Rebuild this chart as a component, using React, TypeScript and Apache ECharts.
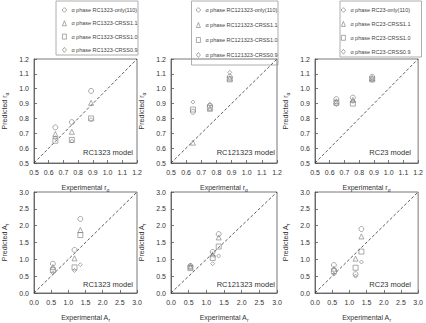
import React, { useEffect, useRef } from 'react';
import * as echarts from 'echarts';

// ---------- data ----------
const MODELS = ['RC1323', 'RC121323', 'RC23'];
const SERIES_SUFFIX = ['only(110)', 'CRSS1.1', 'CRSS1.0', 'CRSS0.9'];
const SYMBOLS = ['circle', 'triangle', 'rect', 'diamond'];

// experimental values (x)
const EXP_R = [0.645, 0.757, 0.888];
const EXP_A = [0.55, 1.18, 1.35];

// predicted r_alpha, one array per series: only(110), CRSS1.1, CRSS1.0, CRSS0.9
const PRED_R_RC1323 = [
  [0.74, 0.775, 0.985],
  [0.695, 0.71, 0.905],
  [0.65, 0.655, 0.8],
  [0.67, 0.648, 0.792],
];
const PRED_R_RC121323 = [
  [0.845, 0.885, 1.08],
  [0.637, 0.865, 1.07],
  [0.86, 0.872, 1.063],
  [0.91, 0.895, 1.11],
];
const PRED_R_RC23 = [
  [0.93, 0.94, 1.08],
  [0.915, 0.925, 1.072],
  [0.905, 0.9, 1.063],
  [0.893, 0.915, 1.055],
];

// predicted A_r
const PRED_A_RC1323 = [
  [0.87, 1.28, 2.2],
  [0.77, 1.03, 1.87],
  [0.68, 0.76, 1.72],
  [0.6, 0.67, 0.84],
];
const PRED_A_RC121323 = [
  [0.8, 1.22, 1.75],
  [0.78, 1.15, 1.65],
  [0.74, 1.04, 1.38],
  [0.83, 0.87, 1.1],
];
const PRED_A_RC23 = [
  [0.83, 0.56, 1.9],
  [0.72, 1.02, 1.68],
  [0.65, 0.75, 1.23],
  [0.56, 0.5, 0.92],
];

// axis ranges [min, max, interval]
const R_AXIS = [0.5, 1.2, 0.1];
const A_AXIS = [0, 3.0, 0.5];

// ---------- layout ----------
const FONT = 'Liberation Sans, Arial, sans-serif';
const LEFTS = [31, 171, 315];
const TOPS = [59, 192];
const WIDTH = 106;
const HEIGHTS = [104, 105];
const LABEL_RIGHT = [133, 275, 411];
const LABEL_Y = [152, 284];
const LEGEND_BOX = [
  { x: 56, y: 1, w: 82, h: 54, left: 62, top: 7, gap: 7.3 },
  { x: 191.5, y: 1, w: 86.5, h: 64, left: 196, top: 7, gap: 9 },
  { x: 340, y: 1, w: 81.5, h: 56, left: 341, top: 7, gap: 7.9 },
];

const INK = '#333';
const MARK = '#7a7a7a';

function seriesName(model: string, k: number) {
  return `α phase ${model}-${SERIES_SUFFIX[k]}`;
}

function buildOption() {
  const grids: any[] = [];
  const xAxes: any[] = [];
  const yAxes: any[] = [];
  const series: any[] = [];
  const legends: any[] = [];
  const graphics: any[] = [];

  const rows = [
    { exp: EXP_R, preds: [PRED_R_RC1323, PRED_R_RC121323, PRED_R_RC23], axis: R_AXIS, sym: 'r', sub: 'α', xsub: 'α' },
    { exp: EXP_A, preds: [PRED_A_RC1323, PRED_A_RC121323, PRED_A_RC23], axis: A_AXIS, sym: 'A', sub: 'r', xsub: 'r' },
  ];

  const rich = {
    n: { fontSize: 7, fontFamily: FONT, color: INK, lineHeight: 9 },
    s: { fontSize: 5, fontFamily: FONT, color: INK, lineHeight: 5, verticalAlign: 'bottom' },
  };

  rows.forEach((row, r) => {
    MODELS.forEach((model, c) => {
      const g = r * 3 + c;
      const [min, max, interval] = row.axis;
      grids.push({
        left: LEFTS[c],
        top: TOPS[r],
        width: WIDTH,
        height: HEIGHTS[r],
        show: true,
        borderColor: '#555',
        borderWidth: 0.8,
        backgroundColor: 'transparent',
      });
      const common = {
        type: 'value',
        gridIndex: g,
        min,
        max,
        interval,
        splitLine: { show: false },
        axisLine: { show: true, lineStyle: { color: '#555', width: 0.8 } },
        axisTick: { show: true, inside: true, length: 3, lineStyle: { color: '#555', width: 0.8 } },
        axisLabel: {
          fontSize: 7,
          fontFamily: FONT,
          color: INK,
          formatter: (v: number) => v.toFixed(1),
        },
        nameLocation: 'middle',
        nameTextStyle: { rich },
      };
      xAxes.push({
        ...common,
        axisLabel: { ...common.axisLabel, margin: 6 },
        name: `{n|Experimental ${row.sym}}{s|${row.xsub}}`,
        nameGap: 20,
      });
      yAxes.push({
        ...common,
        axisLabel: { ...common.axisLabel, margin: 5 },
        name: `{n|Predicted ${row.sym}}{s|${row.sub}}`,
        nameGap: 25,
      });

      // 1:1 reference line
      series.push({
        type: 'line',
        xAxisIndex: g,
        yAxisIndex: g,
        data: [
          [min, min],
          [max, max],
        ],
        symbol: 'none',
        silent: true,
        lineStyle: { type: [3, 2], color: '#333', width: 0.8 },
        z: 1,
      });

      row.preds[c].forEach((vals, k) => {
        series.push({
          type: 'scatter',
          name: seriesName(model, k),
          xAxisIndex: g,
          yAxisIndex: g,
          symbol: SYMBOLS[k],
          symbolSize: k === 3 ? 4 : 5,
          itemStyle: { color: 'rgba(0,0,0,0)', borderColor: MARK, borderWidth: 0.8 },
          data: row.exp.map((x, i) => [x, vals[i]]),
          z: 3,
        });
      });

      graphics.push({
        type: 'text',
        x: LABEL_RIGHT[c],
        y: LABEL_Y[r],
        style: {
          text: `${model} model`,
          fontSize: 7.5,
          fontFamily: FONT,
          fill: INK,
          align: 'right',
          verticalAlign: 'middle',
        },
      });
    });
  });

  MODELS.forEach((model, c) => {
    const b = LEGEND_BOX[c];
    legends.push({
      data: [0, 1, 2, 3].map((k) => seriesName(model, k)),
      orient: 'vertical',
      left: b.left,
      top: b.top,
      padding: 0,
      itemWidth: 4,
      itemHeight: 5,
      itemGap: b.gap,
      selectedMode: false,
      itemStyle: { color: 'rgba(0,0,0,0)', borderColor: MARK, borderWidth: 0.8 },
      textStyle: { fontSize: 5.5, lineHeight: 6, fontFamily: FONT, color: '#444' },
    });
    graphics.push({
      type: 'rect',
      shape: { x: b.x, y: b.y, width: b.w, height: b.h },
      style: { fill: 'none', stroke: '#999', lineWidth: 0.8 },
      z: 0,
    });
  });

  return {
    animation: false,
    backgroundColor: '#fff',
    grid: grids,
    xAxis: xAxes,
    yAxis: yAxes,
    legend: legends,
    series,
    graphic: graphics,
  };
}

export default function App() {
  const ref = useRef<HTMLDivElement>(null);
  useEffect(() => {
    document.body.style.margin = '0';
    if (!ref.current) return;
    const chart = echarts.init(ref.current, undefined, { renderer: 'svg' });
    chart.setOption(buildOption() as any);
    return () => chart.dispose();
  }, []);
  return <div ref={ref} style={{ width: 426, height: 323 }} />;
}
